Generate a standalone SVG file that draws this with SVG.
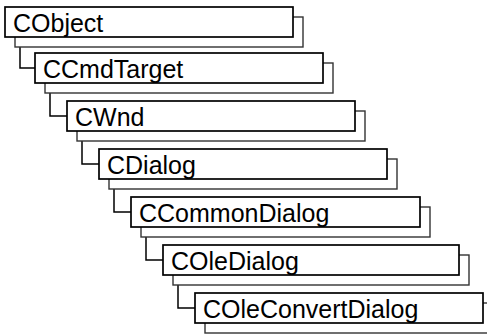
<svg xmlns="http://www.w3.org/2000/svg" width="487" height="334" viewBox="0 0 487 334">
<style>
.shadow{fill:#fff;stroke:#333;stroke-width:1.4}
.box{fill:#fff;stroke:#000;stroke-width:1.7}
.lbl{font-family:"Liberation Sans",Arial,sans-serif;font-size:25px;fill:#000}
.conn{fill:none;stroke:#000;stroke-width:1.5}
</style>
<rect width="487" height="334" fill="#fff"/>
<g id="connectors">
<path class="conn" d="M20 47V68H35"/>
<path class="conn" d="M50 93V116H67"/>
<path class="conn" d="M82 141V164H99"/>
<path class="conn" d="M114 189V212H131"/>
<path class="conn" d="M146 237V260H163"/>
<path class="conn" d="M178 285V308H195"/>
</g>
<g id="CObject">
<rect class="shadow" x="15" y="17" width="288" height="30"/>
<rect class="box" x="5" y="7" width="288" height="30"/>
<text class="lbl" x="13" y="32">CObject</text>
</g>
<g id="CCmdTarget">
<rect class="shadow" x="45" y="63" width="288" height="30"/>
<rect class="box" x="35" y="53" width="288" height="30"/>
<text class="lbl" x="43" y="78">CCmdTarget</text>
</g>
<g id="CWnd">
<rect class="shadow" x="77" y="111" width="288" height="30"/>
<rect class="box" x="67" y="101" width="288" height="30"/>
<text class="lbl" x="75" y="126">CWnd</text>
</g>
<g id="CDialog">
<rect class="shadow" x="109" y="159" width="288" height="30"/>
<rect class="box" x="99" y="149" width="288" height="30"/>
<text class="lbl" x="107" y="174">CDialog</text>
</g>
<g id="CCommonDialog">
<rect class="shadow" x="141" y="207" width="289" height="30"/>
<rect class="box" x="131" y="197" width="289" height="30"/>
<text class="lbl" x="139" y="222">CCommonDialog</text>
</g>
<g id="COleDialog">
<rect class="shadow" x="173" y="255" width="296" height="30"/>
<rect class="box" x="163" y="245" width="296" height="30"/>
<text class="lbl" x="171" y="270">COleDialog</text>
</g>
<g id="COleConvertDialog">
<rect class="shadow" x="205" y="303" width="288" height="30"/>
<rect class="box" x="195" y="293" width="288" height="30"/>
<text class="lbl" x="203" y="318">COleConvertDialog</text>
</g>
</svg>
